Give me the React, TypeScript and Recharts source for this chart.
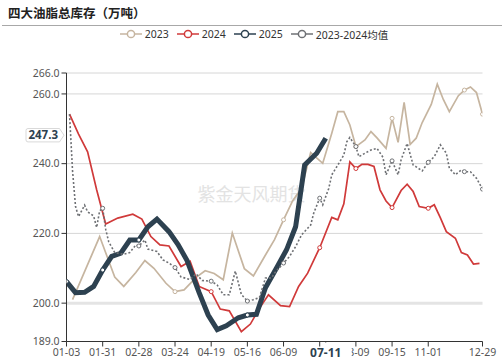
import React from "react";
import { LineChart, Line, XAxis, YAxis, CartesianGrid, ReferenceLine } from "recharts";

// x axis: position index of the merged weekly date list (MM-DD of 2023/2024/2025 reports)
const tickIndex = [0, 12, 24, 36, 48, 60, 72, 84, 96, 108, 120, 138];
const tickLabels = ["01-03", "01-31", "02-28", "03-24", "04-19", "05-16", "06-09", "07-05", "08-09", "09-15", "11-01", "12-29"];
const symbolIndex = [0, 12, 24, 36, 48, 60, 72, 84, 96, 108, 120, 132, 138];
const yTicks = [189, 200, 220, 240, 260, 266];

const idx2023 = [2, 11, 16, 19, 23, 26, 29, 33, 36, 39, 43, 46, 49, 52, 55, 59, 62, 66, 69, 72, 75, 78, 81, 85, 88, 90, 92, 94, 96, 99, 101, 103, 106, 108, 110, 112, 114, 116, 118, 121, 123, 125, 127, 130, 132, 134, 136, 138];
const val2023 = [201.0, 219.1, 207.5, 204.8, 208.8, 212.2, 210.0, 205.7, 203.3, 203.8, 207.4, 209.3, 208.5, 206.7, 220.1, 209.9, 207.8, 213.8, 218.2, 223.9, 229.3, 233.0, 243.2, 240.1, 248.7, 254.9, 254.9, 251.1, 244.9, 246.8, 249.2, 247.4, 244.4, 253.0, 246.1, 257.6, 245.5, 247.3, 251.8, 257.0, 262.8, 258.4, 254.9, 259.5, 261.1, 262.0, 260.4, 254.2];

const idx2024 = [1, 4, 7, 10, 13, 17, 22, 25, 28, 31, 34, 38, 41, 44, 48, 51, 54, 58, 61, 64, 67, 71, 74, 77, 80, 84, 88, 90, 92, 94, 96, 98, 100, 102, 104, 106, 108, 111, 113, 115, 117, 120, 122, 124, 126, 129, 131, 133, 135, 137];
const val2024 = [254.2, 248.5, 243.4, 232.5, 222.7, 224.4, 225.5, 224.1, 219.1, 216.7, 216.4, 210.5, 212.0, 204.8, 203.3, 198.3, 197.8, 191.8, 194.0, 198.5, 202.4, 199.3, 199.0, 204.8, 208.6, 215.9, 224.6, 223.9, 228.5, 240.5, 238.6, 239.8, 239.8, 239.2, 232.5, 229.3, 227.4, 232.3, 234.1, 232.0, 227.7, 227.2, 228.2, 224.5, 220.5, 218.6, 214.5, 213.8, 211.2, 211.4];

const idx2025 = [0, 3, 6, 9, 12, 15, 18, 21, 24, 27, 30, 34, 37, 40, 44, 47, 50, 53, 57, 60, 63, 66, 70, 73, 76, 79, 83, 86];
const val2025 = [206.2, 203.0, 203.1, 204.8, 209.5, 213.4, 214.3, 218.1, 218.1, 221.9, 224.1, 220.5, 216.8, 212.2, 203.0, 196.6, 192.4, 193.5, 195.8, 196.6, 196.8, 204.4, 210.6, 215.3, 221.9, 239.6, 243.0, 247.3];

const idxAvg = [1, 2, 3, 4, 6, 7, 9, 10, 11, 12, 13, 14, 16, 19, 21, 23, 24, 26, 27, 30, 32, 34, 36, 38, 41, 43, 45, 48, 50, 52, 54, 56, 58, 60, 62, 64, 66, 68, 69, 72, 74, 76, 78, 81, 82, 84, 85, 87, 88, 90, 92, 93, 94, 96, 97, 99, 101, 103, 105, 106, 108, 110, 111, 113, 115, 116, 118, 120, 122, 124, 126, 127, 129, 131, 132, 134, 136, 138];
const valAvg = [254.2, 238.0, 227.7, 224.8, 228.1, 226.2, 225.0, 221.7, 226.5, 227.2, 221.2, 217.6, 214.5, 214.0, 214.5, 216.7, 216.4, 218.1, 215.5, 214.8, 212.4, 211.5, 210.2, 207.5, 206.8, 208.4, 206.5, 206.3, 205.2, 202.4, 202.4, 209.2, 202.5, 200.6, 201.0, 201.6, 207.2, 207.2, 208.6, 211.5, 213.4, 216.2, 219.6, 222.4, 225.8, 230.1, 228.2, 232.9, 236.8, 239.6, 242.5, 246.3, 247.5, 244.9, 242.0, 243.0, 243.9, 244.4, 241.8, 236.8, 240.8, 236.8, 241.1, 245.8, 239.6, 239.1, 237.9, 240.4, 242.0, 245.4, 243.0, 238.7, 236.8, 238.2, 237.7, 237.7, 235.8, 232.7];

const seriesNames = ["2023", "2024", "2025", "2023-2024均值"];
const seriesColors = ["#c6b5a0", "#d03a3a", "#2d4150", "#6e7074"];

const latestIndex = 86;
const latestLabel = "07-11";
const latestValue = 247.3;

const title = "四大油脂总库存（万吨）";
const watermark = "紫金天风期货";

const toRows = (idx: number[], val: number[]) => idx.map((x, i) => ({ x, v: val[i] }));
const rows2023 = toRows(idx2023, val2023);
const rows2024 = toRows(idx2024, val2024);
const rows2025 = toRows(idx2025, val2025);
const rowsAvg = toRows(idxAvg, valAvg);

const FONT = "'Noto Sans', 'Noto Sans CJK SC', sans-serif";
const CJK = "'Noto Sans CJK SC', 'Noto Sans', sans-serif";
const TICK_SIZE = 5;
const TICK_MARGIN = 2;

const makeDot = (color: string, r: number, sw: number) => (props: any) => {
  const { cx, cy, payload, index } = props;
  if (!payload || !symbolIndex.includes(payload.x)) return <g key={`n${index}`} />;
  return <circle key={`d${index}`} cx={cx} cy={cy} r={r} fill="#fff" stroke={color} strokeWidth={sw} />;
};

// x tick: regular date labels, plus the highlighted latest date (rendered last, on top)
const AxisTick = (props: any) => {
  const { x, y, payload } = props;
  const v = payload?.value;
  if (v === latestIndex) {
    const axisY = y - TICK_SIZE - TICK_MARGIN;
    return (
      <g>
        <rect x={x - 1.5} y={axisY + 1} width={3} height={TICK_SIZE} fill="#fff" />
        <rect x={x - 24} y={axisY + 6} width={50} height={18} fill="#fff" />
        <text x={x} y={axisY + 15.8} textAnchor="middle" fontWeight="bold" fontSize={12} fill="#2d4150" fontFamily={FONT}>
          {latestLabel}
        </text>
      </g>
    );
  }
  const label = tickLabels[tickIndex.indexOf(v)] ?? "";
  return (
    <text x={x} y={y} dy="0.71em" textAnchor="middle" fill="#555" fontSize={10.5} fontFamily={FONT}>
      {label}
    </text>
  );
};

const YPointerLabel = (props: any) => {
  const vb = props.viewBox || {};
  const ax = vb.x;
  const cy = vb.y - 3;
  const l = ax - 40.5;
  const r = ax - 7;
  const tip = ax - 2.5;
  const h = 6.7;
  const d = `M${l + 2} ${cy - h} H${r} L${tip} ${cy} L${r} ${cy + h} H${l + 2} Q${l} ${cy + h} ${l} ${cy + h - 2} V${cy - h + 2} Q${l} ${cy - h} ${l + 2} ${cy - h} Z`;
  return (
    <g>
      <path d={d} fill="#fff" stroke="#d9d9d9" strokeWidth={1} />
      <text x={(l + r) / 2 + 0.5} y={cy + 4} textAnchor="middle" fontWeight="bold" fontSize={11.5} fill="#2d4150" fontFamily={FONT}>
        {latestValue.toFixed(1)}
      </text>
    </g>
  );
};

const gridLine = (props: any) => {
  const { x1, x2, y1, y2, index } = props;
  const tickVal = yTicks[index];
  const isBase = tickVal === 200;
  return (
    <line
      key={`g${index}`}
      x1={x1}
      x2={x2}
      y1={y1}
      y2={y2}
      stroke={isBase ? "#e4e4e4" : "#d6d6d6"}
      strokeWidth={isBase ? 3 : 1}
    />
  );
};

const LegendIcon = ({ color }: { color: string }) => (
  <svg width={22} height={10} style={{ display: "block" }}>
    <line x1={0} x2={22} y1={5} y2={5} stroke={color} strokeWidth={1.5} />
    <circle cx={11} cy={5} r={3.6} fill="#fff" stroke={color} strokeWidth={1.5} />
  </svg>
);

export default function App() {
  return (
    <div style={{ position: "absolute", left: 0, top: 0, width: 504, height: 360, background: "#fff", overflow: "hidden" }}>
      <div
        style={{
          position: "absolute",
          left: 8,
          top: 5,
          fontFamily: CJK,
          fontWeight: "bold",
          fontSize: 12.5,
          lineHeight: "16px",
          color: "#222",
        }}
      >
        {title}
      </div>
      <div style={{ position: "absolute", left: 2, top: 25, width: 500, height: 1, background: "#a8a8a8" }} />
      <div
        style={{
          position: "absolute",
          left: 0,
          top: 27,
          width: 504,
          height: 14,
          display: "flex",
          justifyContent: "center",
          alignItems: "center",
          fontFamily: FONT,
          fontSize: 10.5,
          color: "#333",
          paddingLeft: 2,
        }}
      >
        {seriesNames.map((n, i) => (
          <div key={n} style={{ display: "flex", alignItems: "center", marginRight: i < seriesNames.length - 1 ? 8 : 0 }}>
            <LegendIcon color={seriesColors[i]} />
            <span style={{ marginLeft: 3, whiteSpace: "nowrap" }}>{n}</span>
          </div>
        ))}
      </div>
      <div
        style={{
          position: "absolute",
          left: 0,
          top: 181,
          width: 503,
          textAlign: "center",
          fontFamily: CJK,
          fontSize: 18,
          lineHeight: "24px",
          color: "#e3e3e3",
        }}
      >
        {watermark}
      </div>
      <div style={{ position: "absolute", left: 0, top: 0 }}>
        <LineChart
          width={504}
          height={360}
          margin={{ top: 73, right: 21.5, bottom: 0, left: 6.5 }}
          style={{ fontFamily: FONT }}
        >
          <CartesianGrid vertical={false} horizontal={gridLine} />
          <XAxis
            type="number"
            dataKey="x"
            domain={[0, 138]}
            ticks={[...tickIndex, latestIndex]}
            interval={0}
            allowDataOverflow
            height={18.5}
            stroke="#333"
            tickSize={TICK_SIZE}
            tickMargin={TICK_MARGIN}
            tick={<AxisTick />}
          />
          <YAxis
            type="number"
            domain={[189, 266]}
            ticks={yTicks}
            interval={0}
            allowDataOverflow
            tickFormatter={(v: number) => v.toFixed(1)}
            width={60}
            stroke="#333"
            tickSize={TICK_SIZE}
            tickMargin={TICK_MARGIN}
            tick={{ fill: "#555", fontSize: 10.5, fontFamily: FONT }}
          />
          <Line
            data={rows2023}
            dataKey="v"
            name={seriesNames[0]}
            type="linear"
            stroke={seriesColors[0]}
            strokeWidth={1.7}
            dot={makeDot(seriesColors[0], 2, 1)}
            activeDot={false}
            isAnimationActive={false}
          />
          <Line
            data={rows2024}
            dataKey="v"
            name={seriesNames[1]}
            type="linear"
            stroke={seriesColors[1]}
            strokeWidth={1.7}
            dot={makeDot(seriesColors[1], 2, 1)}
            activeDot={false}
            isAnimationActive={false}
          />
          <Line
            data={rows2025}
            dataKey="v"
            name={seriesNames[2]}
            type="linear"
            stroke={seriesColors[2]}
            strokeWidth={5}
            dot={makeDot(seriesColors[2], 2, 1)}
            activeDot={false}
            isAnimationActive={false}
          />
          <Line
            data={rowsAvg}
            dataKey="v"
            name={seriesNames[3]}
            type="linear"
            stroke={seriesColors[3]}
            strokeWidth={1.6}
            strokeDasharray="2 2"
            dot={makeDot(seriesColors[3], 2, 1)}
            activeDot={false}
            isAnimationActive={false}
          />
          <ReferenceLine y={latestValue} stroke="none" strokeOpacity={0} label={<YPointerLabel />} />
        </LineChart>
      </div>
    </div>
  );
}
